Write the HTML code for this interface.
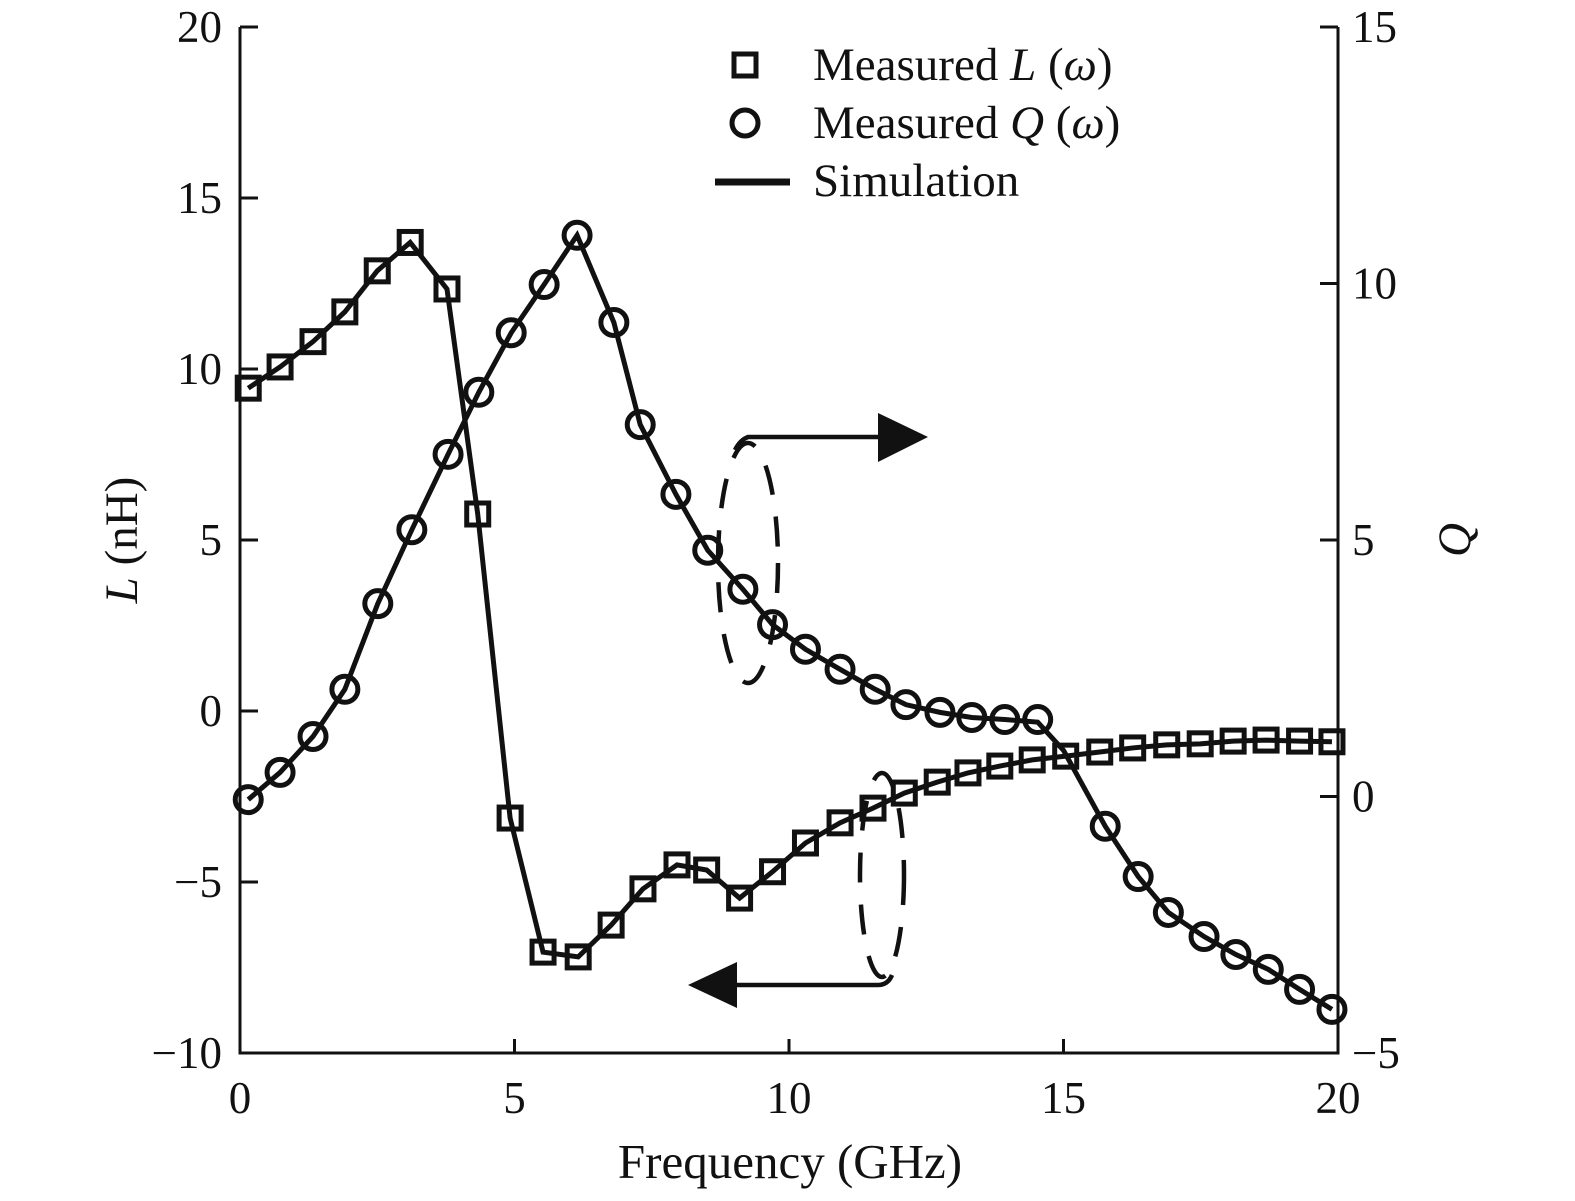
<!DOCTYPE html>
<html><head><meta charset="utf-8"><style>
html,body{margin:0;padding:0;background:#fff;overflow:hidden;}
svg{display:block;}
text{font-family:"Liberation Serif",serif;fill:#111;}
</style></head><body>
<svg id="chart" width="1575" height="1201" style="position:absolute;left:0;top:0" xmlns="http://www.w3.org/2000/svg"></svg>
<script>
const freqL = [0.15,0.73,1.33,1.91,2.5,3.1,3.77,4.33,4.92,5.52,6.16,6.76,7.34,7.96,8.5,9.1,9.7,10.3,10.93,11.53,12.1,12.7,13.26,13.84,14.43,15.04,15.66,16.26,16.88,17.49,18.09,18.69,19.3,19.89];
const valL = [9.44,10.06,10.8,11.67,12.87,13.7,12.34,5.76,-3.13,-7.05,-7.19,-6.26,-5.2,-4.5,-4.65,-5.47,-4.7,-3.86,-3.27,-2.84,-2.4,-2.08,-1.81,-1.61,-1.43,-1.32,-1.2,-1.08,-0.99,-0.96,-0.88,-0.85,-0.88,-0.9];
const freqQ = [0.15,0.73,1.33,1.91,2.51,3.13,3.79,4.35,4.94,5.54,6.14,6.81,7.29,7.94,8.52,9.16,9.7,10.3,10.93,11.57,12.13,12.75,13.33,13.93,14.53,15.76,16.36,16.91,17.56,18.14,18.73,19.3,19.89];
const valQ = [-0.06,0.47,1.17,2.09,3.76,5.2,6.67,7.88,9.04,9.98,10.94,9.24,7.25,5.89,4.8,4.04,3.35,2.87,2.48,2.09,1.79,1.64,1.54,1.5,1.5,-0.58,-1.56,-2.26,-2.73,-3.08,-3.37,-3.76,-4.15];
const simFreqQ = [0.15,0.73,1.33,1.91,2.51,3.13,3.79,4.35,4.94,5.54,6.14,6.81,7.29,7.94,8.52,9.16,9.7,10.3,10.93,11.57,12.13,12.75,13.33,13.93,14.53,15.0,15.76,16.36,16.91,17.56,18.14,18.73,19.3,19.89];
const simValQ = [-0.06,0.47,1.17,2.09,3.76,5.2,6.67,7.88,9.04,9.98,10.94,9.24,7.25,5.89,4.8,4.04,3.35,2.87,2.48,2.09,1.79,1.64,1.54,1.5,1.45,0.9,-0.58,-1.56,-2.26,-2.73,-3.08,-3.37,-3.76,-4.15];
const xTicks = [0,5,10,15,20];
const lTicks = [20,15,10,5,0,-5,-10];
const qTicks = [15,10,5,0,-5];

const X0=240,X1=1338,YT=27,YB=1053;
const xs=f=>X0+(f/20)*(X1-X0);
const yL=v=>YB-(v+10)/30*(YB-YT);
const yQ=v=>YB-(v+5)/20*(YB-YT);
const svg=document.getElementById('chart');
const NS='http://www.w3.org/2000/svg';
function mk(tag,attrs,parent){const e=document.createElementNS(NS,tag);for(const k in attrs)e.setAttribute(k,attrs[k]);(parent||svg).appendChild(e);return e;}

let a=mk('path',{d:`M${X0},${YT} V${YB} H${X1} V${YT}`,fill:'none',stroke:'#111','stroke-width':3});


xTicks.forEach(t=>{
  let l=mk('line',{x1:xs(t),x2:xs(t),y1:YB,y2:YB-14,stroke:'#111','stroke-width':3});
  
  
  let tx=mk('text',{x:xs(t),y:1113,'font-size':45,'text-anchor':'middle'});tx.textContent=t;
  
  
});
lTicks.forEach(t=>{
  let l=mk('line',{x1:X0,x2:X0+18,y1:yL(t),y2:yL(t),stroke:'#111','stroke-width':3});
  
  
  let tx=mk('text',{x:222,y:yL(t)+15,'font-size':45,'text-anchor':'end'});tx.textContent=t<0?'\u2212'+(-t):t;
  
  
});
qTicks.forEach(t=>{
  let l=mk('line',{x1:X1,x2:X1-18,y1:yQ(t),y2:yQ(t),stroke:'#111','stroke-width':3});
  
  
  let tx=mk('text',{x:1352,y:yQ(t)+15,'font-size':45,'text-anchor':'start'});tx.textContent=t<0?'\u2212'+(-t):t;
  
  
});
let p1=mk('polyline',{points:freqL.map((f,i)=>xs(f)+','+yL(valL[i])).join(' '),fill:'none',stroke:'#111','stroke-width':5});


let p2=mk('polyline',{points:simFreqQ.map((f,i)=>xs(f)+','+yQ(simValQ[i])).join(' '),fill:'none',stroke:'#111','stroke-width':5});


freqL.forEach((f,i)=>{
  let r=mk('rect',{x:xs(f)-11,y:yL(valL[i])-11,width:22,height:22,fill:'none',stroke:'#111','stroke-width':5});
  
  
});
freqQ.forEach((f,i)=>{
  let c=mk('circle',{cx:xs(f),cy:yQ(valQ[i]),r:13,fill:'none',stroke:'#111','stroke-width':5});
  
  
});
</script>
<svg width="1575" height="1201" style="position:absolute;left:0;top:0" xmlns="http://www.w3.org/2000/svg">
 <g font-family="Liberation Serif, serif" font-size="47" fill="#111">
  <rect x="734" y="54" width="22" height="22" fill="none" stroke="#111" stroke-width="5"/>
  <text x="813" y="80">Measured <tspan font-style="italic">L</tspan> (<tspan font-style="italic">ω</tspan>)</text>
  <circle cx="745" cy="123" r="13" fill="none" stroke="#111" stroke-width="5"/>
  <text x="813" y="138">Measured <tspan font-style="italic">Q</tspan> (<tspan font-style="italic">ω</tspan>)</text>
  <line x1="715" x2="790" y1="182" y2="182" stroke="#111" stroke-width="7"/>
  <text x="813" y="196">Simulation</text>
 </g>
 <g fill="none" stroke="#111" stroke-width="4.5">
  <ellipse cx="748" cy="563" rx="30" ry="120" stroke-dasharray="30,22"/>
  <path d="M735,450 Q740,440 748,437 H880"/>
  <ellipse cx="882" cy="875" rx="22" ry="102" stroke-dasharray="30,22"/>
  <path d="M892,975 Q888,985 878,985 H735"/>
 </g>
 <polygon points="878,413 928,437 878,462" fill="#111"/>
 <polygon points="737,962 688,985 737,1008" fill="#111"/>
 <text x="790" y="1178" font-family="Liberation Serif, serif" font-size="49" text-anchor="middle" fill="#111">Frequency (GHz)</text>
 <text transform="translate(137,540) rotate(-90)" font-family="Liberation Serif, serif" font-size="47" text-anchor="middle" fill="#111"><tspan font-style="italic">L</tspan> (nH)</text>
 <text transform="translate(1470,540) rotate(-90)" font-family="Liberation Serif, serif" font-size="47" font-style="italic" text-anchor="middle" fill="#111">Q</text>
</svg>
</body></html>
